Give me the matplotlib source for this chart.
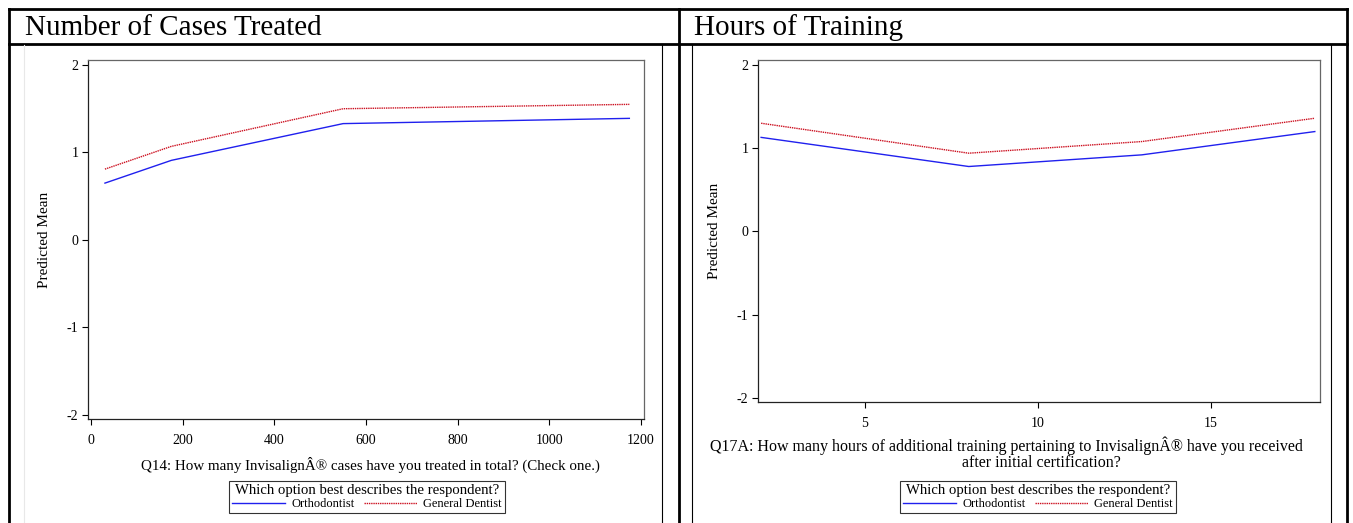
import matplotlib
matplotlib.use('Agg')
import matplotlib.pyplot as plt
from matplotlib.lines import Line2D

plt.rcParams['font.family'] = ['Liberation Serif', 'DejaVu Serif']
plt.rcParams['axes.unicode_minus'] = False

W, H = 1353, 523

# Panel 1: Number of Cases Treated
cases_x = [30, 175, 550, 1175]
cases_ortho = [0.65, 0.91, 1.33, 1.39]
cases_gd = [0.81, 1.07, 1.50, 1.55]
cases_ticks = [0, 200, 400, 600, 800, 1000, 1200]

# Panel 2: Hours of Training
hours_x = [2, 8, 13, 18]
hours_ortho = [1.13, 0.78, 0.92, 1.20]
hours_gd = [1.30, 0.94, 1.08, 1.36]
hours_ticks = [5, 10, 15]

y_ticks = [-2, -1, 0, 1, 2]
series_labels = ['Orthodontist', 'General Dentist']
legend_title = 'Which option best describes the respondent?'


def fx(x):
    return x / W


def fy(y):
    return 1 - y / H


def box(l, t, r, b):
    return [fx(l), fy(b), (r - l) / W, (b - t) / H]


fig = plt.figure(figsize=(W / 100, H / 100), dpi=100)

# table grid
thick = dict(color='black', lw=2.0)
thin = dict(color='black', lw=0.8)
for (x0, y0, x1, y1) in [(9, 9, 1347, 9), (9, 44, 1347, 44)]:
    fig.add_artist(Line2D([fx(x0), fx(x1)], [fy(y0), fy(y1)], **thick))
for x in [9, 679, 1347]:
    fig.add_artist(Line2D([fx(x), fx(x)], [fy(9), fy(523)], **thick))
for x in [662, 692, 1331]:
    fig.add_artist(Line2D([fx(x), fx(x)], [fy(44), fy(523)], **thin))
fig.add_artist(Line2D([fx(24), fx(24)], [fy(45), fy(523)], color='#e8e8e8', lw=0.8))

fig.text(fx(25), fy(28), 'Number of Cases Treated', fontsize=21, va='center', ha='left')
fig.text(fx(694), fy(28), 'Hours of Training', fontsize=21, va='center', ha='left')


def panel(rect, xs, ortho, gd, xlim, ylim, xticks, xlabels, xlab_size, ylab_x, leg_xy):
    ax = fig.add_axes(rect)
    l1, = ax.plot(xs, ortho, color='#2020ee', lw=1.0)
    l2, = ax.plot(xs, gd, color='#cc1020', lw=1.0, linestyle=(0, (1, 0.6)))
    ax.set_xlim(*xlim)
    ax.set_ylim(*ylim)
    ax.set_xticks(xticks)
    ax.set_yticks(y_ticks)
    ax.tick_params(labelsize=10, length=4, width=0.8, direction='out')
    ax.tick_params(axis='x', pad=7)
    ax.tick_params(axis='y', pad=3)
    for s in ['top', 'right']:
        ax.spines[s].set_color('#666666')
    for s in ['left', 'bottom']:
        ax.spines[s].set_color('#222222')
    for s in ax.spines.values():
        s.set_linewidth(0.9)
    fig.text(fx(ylab_x), (rect[1] + rect[3] / 2), 'Predicted Mean', rotation=90,
             fontsize=11, ha='center', va='center')
    for text, cx, cy in xlabels:
        fig.text(fx(cx), fy(cy), text, fontsize=xlab_size, ha='center', va='center')
    leg = fig.legend([l1, l2], series_labels, title=legend_title, ncol=2,
                     loc='center', bbox_to_anchor=(fx(leg_xy[0]), fy(leg_xy[1])),
                     frameon=True, fancybox=False, edgecolor='black',
                     fontsize=9, title_fontsize=10.6, borderpad=0.25,
                     handlelength=4.2, handletextpad=0.5, columnspacing=0.8,
                     labelspacing=0.1, borderaxespad=0)
    leg.get_frame().set_linewidth(0.8)
    leg._legend_box.sep = 1
    return ax


panel(box(88, 60, 644, 419), cases_x, cases_ortho, cases_gd,
      (-7, 1207), (-2.046, 2.057), cases_ticks,
      [('Q14: How many InvisalignÂ® cases have you treated in total? (Check one.)', 370, 465)],
      10.8, 45, (367, 497))

panel(box(758, 60, 1320, 402), hours_x, hours_ortho, hours_gd,
      (1.91, 18.15), (-2.05, 2.06), hours_ticks,
      [('Q17A: How many hours of additional training pertaining to InvisalignÂ® have you received', 1006, 446),
       ('after initial certification?', 1041, 463)],
      11.5, 714, (1038, 497))

fig.savefig('out.png', dpi=100, facecolor='white')
